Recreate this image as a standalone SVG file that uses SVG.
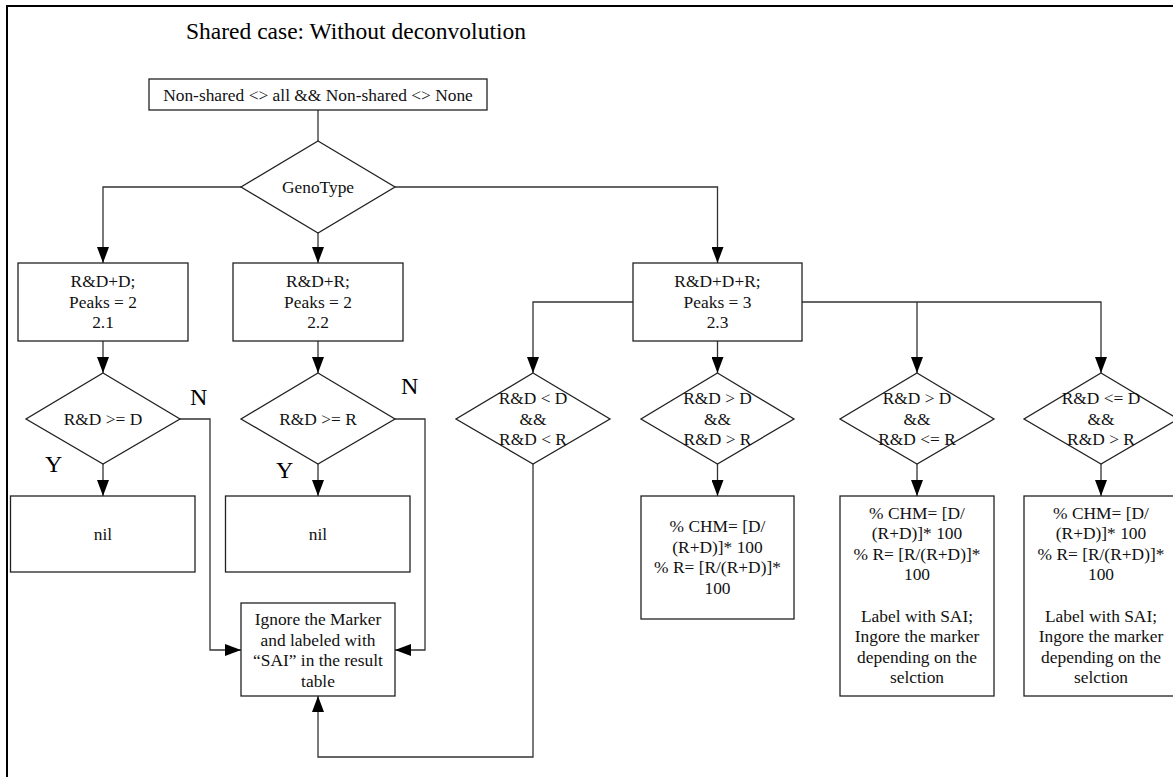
<svg xmlns="http://www.w3.org/2000/svg" width="1173" height="777" viewBox="0 0 1173 777" font-family="'Liberation Serif', 'Times New Roman', serif">
<defs>
<marker id="ah" viewBox="0 0 16 12" refX="16" refY="6" markerWidth="16" markerHeight="12" markerUnits="userSpaceOnUse" orient="auto">
<path d="M0,0 L16,6 L0,12 Z" fill="#000"/>
</marker>
<style>
.box{fill:#fff;stroke:#222;stroke-width:1.3}
.lbl{font-family:'Liberation Serif','Times New Roman',serif;font-size:17.4px;fill:#111;text-anchor:middle}
.yn{font-family:'Liberation Serif','Times New Roman',serif;font-size:24px;fill:#000}
.c{fill:none;stroke:#333;stroke-width:1.3}
.ca{fill:none;stroke:#333;stroke-width:1.3;marker-end:url(#ah)}
</style>
</defs>
<rect width="1173" height="777" fill="#fff"/>
<rect x="7" y="6" width="1200" height="800" fill="none" stroke="#000" stroke-width="2"/>
<text x="186" y="38.5" style="font-family:'Liberation Serif','Times New Roman',serif;font-size:23.5px;fill:#000">Shared case: Without deconvolution</text>

<g id="connectors">
<path class="c" d="M318,110 V141"/>
<path class="ca" d="M241,187 H103 V263"/>
<path class="ca" d="M318,233 V263"/>
<path class="ca" d="M395,187 H717.5 V263"/>
<path class="ca" d="M103,341 V373"/>
<path class="ca" d="M318,341 V373"/>
<path class="ca" d="M103,464 V496"/>
<path class="ca" d="M318,464 V496"/>
<path class="ca" d="M180,419 H210 V650 H241"/>
<path class="ca" d="M395,419 H425 V650 H395"/>
<path class="ca" d="M533,464 V757 H318 V696"/>
<path class="ca" d="M633,302 H533 V373"/>
<path class="ca" d="M717.5,341 V373"/>
<path class="ca" d="M802,302 H1101 V373"/>
<path class="ca" d="M917,302 V373"/>
<path class="ca" d="M717.5,464 V496"/>
<path class="ca" d="M917,464 V496"/>
<path class="ca" d="M1101,464 V496"/>
</g>

<g id="start">
<rect class="box" x="149" y="79" width="338" height="31"/>
<text class="lbl" x="318" y="100.5">Non-shared &lt;&gt; all &amp;&amp; Non-shared &lt;&gt; None</text>
</g>

<g id="genotype">
<polygon class="box" points="318,141 395,187 318,233 241,187"/>
<text class="lbl" x="318" y="192.5">GenoType</text>
</g>

<g id="case21">
<rect class="box" x="18" y="263" width="170" height="78"/>
<text class="lbl" x="103"><tspan x="103" y="287">R&amp;D+D;</tspan><tspan x="103" y="307.5">Peaks = 2</tspan><tspan x="103" y="328">2.1</tspan></text>
</g>
<g id="case22">
<rect class="box" x="233" y="263" width="170" height="78"/>
<text class="lbl" x="318"><tspan x="318" y="287">R&amp;D+R;</tspan><tspan x="318" y="307.5">Peaks = 2</tspan><tspan x="318" y="328">2.2</tspan></text>
</g>
<g id="case23">
<rect class="box" x="633" y="263" width="169" height="78"/>
<text class="lbl" x="717.5"><tspan x="717.5" y="287">R&amp;D+D+R;</tspan><tspan x="717.5" y="307.5">Peaks = 3</tspan><tspan x="717.5" y="328">2.3</tspan></text>
</g>

<g id="dec1">
<polygon class="box" points="103,373 180,419 103,464 26,419"/>
<text class="lbl" x="103" y="424.5">R&amp;D &gt;= D</text>
</g>
<g id="dec2">
<polygon class="box" points="318,373 395,419 318,464 241,419"/>
<text class="lbl" x="318" y="424.5">R&amp;D &gt;= R</text>
</g>
<g id="dec3">
<polygon class="box" points="533,373 610,419 533,464 456,419"/>
<text class="lbl" x="533"><tspan x="533" y="404">R&amp;D &lt; D</tspan><tspan x="533" y="424.5">&amp;&amp;</tspan><tspan x="533" y="445">R&amp;D &lt; R</tspan></text>
</g>
<g id="dec4">
<polygon class="box" points="717.5,373 794,419 717.5,464 641,419"/>
<text class="lbl" x="717.5"><tspan x="717.5" y="404">R&amp;D &gt; D</tspan><tspan x="717.5" y="424.5">&amp;&amp;</tspan><tspan x="717.5" y="445">R&amp;D &gt; R</tspan></text>
</g>
<g id="dec5">
<polygon class="box" points="917,373 994,419 917,464 840,419"/>
<text class="lbl" x="917"><tspan x="917" y="404">R&amp;D &gt; D</tspan><tspan x="917" y="424.5">&amp;&amp;</tspan><tspan x="917" y="445">R&amp;D &lt;= R</tspan></text>
</g>
<g id="dec6">
<polygon class="box" points="1101,373 1178,419 1101,464 1024,419"/>
<text class="lbl" x="1101"><tspan x="1101" y="404">R&amp;D &lt;= D</tspan><tspan x="1101" y="424.5">&amp;&amp;</tspan><tspan x="1101" y="445">R&amp;D &gt; R</tspan></text>
</g>

<g id="labels">
<text class="yn" x="190" y="405">N</text>
<text class="yn" x="401" y="394">N</text>
<text class="yn" x="45" y="472">Y</text>
<text class="yn" x="276" y="478">Y</text>
</g>

<g id="nil1">
<rect class="box" x="10.5" y="496" width="184.5" height="76"/>
<text class="lbl" x="103" y="539.5">nil</text>
</g>
<g id="nil2">
<rect class="box" x="225.5" y="496" width="184.5" height="76"/>
<text class="lbl" x="318" y="539.5">nil</text>
</g>

<g id="ignore">
<rect class="box" x="241" y="603" width="154" height="93"/>
<text class="lbl" x="318"><tspan x="318" y="625">Ignore the Marker</tspan><tspan x="318" y="645.5">and labeled with</tspan><tspan x="318" y="666">“SAI” in the result</tspan><tspan x="318" y="686.5">table</tspan></text>
</g>

<g id="result4">
<rect class="box" x="641" y="496" width="153" height="123"/>
<text class="lbl" x="717.5"><tspan x="717.5" y="532">% CHM= [D/</tspan><tspan x="717.5" y="552.5">(R+D)]* 100</tspan><tspan x="717.5" y="573">% R= [R/(R+D)]*</tspan><tspan x="717.5" y="593.5">100</tspan></text>
</g>
<g id="result5">
<rect class="box" x="840" y="496" width="154" height="200"/>
<text class="lbl" x="917"><tspan x="917" y="518.5">% CHM= [D/</tspan><tspan x="917" y="539">(R+D)]* 100</tspan><tspan x="917" y="559.5">% R= [R/(R+D)]*</tspan><tspan x="917" y="580">100</tspan><tspan x="917" y="621.5">Label with SAI;</tspan><tspan x="917" y="642">Ingore the marker</tspan><tspan x="917" y="662.5">depending on the</tspan><tspan x="917" y="683">selction</tspan></text>
</g>
<g id="result6">
<rect class="box" x="1024" y="496" width="154" height="200"/>
<text class="lbl" x="1101"><tspan x="1101" y="518.5">% CHM= [D/</tspan><tspan x="1101" y="539">(R+D)]* 100</tspan><tspan x="1101" y="559.5">% R= [R/(R+D)]*</tspan><tspan x="1101" y="580">100</tspan><tspan x="1101" y="621.5">Label with SAI;</tspan><tspan x="1101" y="642">Ingore the marker</tspan><tspan x="1101" y="662.5">depending on the</tspan><tspan x="1101" y="683">selction</tspan></text>
</g>
</svg>
